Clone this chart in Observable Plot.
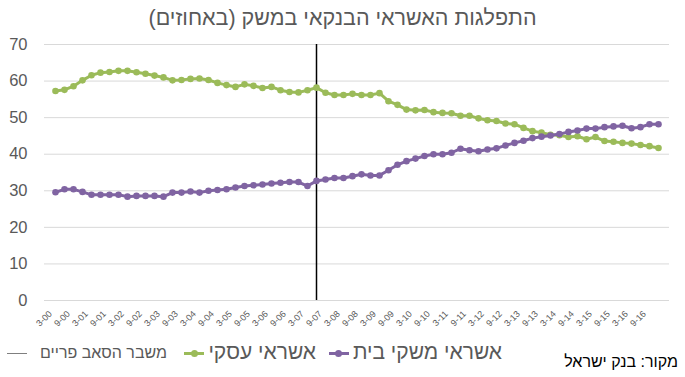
<!DOCTYPE html>
<html><head><meta charset="utf-8">
<script src="https://cdn.jsdelivr.net/npm/d3@7"></script>
<script src="https://cdn.jsdelivr.net/npm/@observablehq/plot@0.6"></script>
<style>
body{margin:0;background:#fff;font-family:"Liberation Sans",Arial,sans-serif;}
#wrap{position:relative;width:685px;height:377px;overflow:hidden;background:#fff;}
#title{position:absolute;left:0;top:0;width:685px;height:36px;line-height:36px;text-align:center;font-size:21.5px;color:#595959;direction:rtl;}
#chart{position:absolute;left:0;top:36px;}
.leg{position:absolute;color:#595959;white-space:nowrap;direction:rtl;line-height:26px;}
.sym{position:absolute;height:24px;}
.sym .ln{position:absolute;left:0;right:0;top:11px;height:3px;}
.sym .dt{position:absolute;left:50%;top:9px;width:7px;height:7px;margin-left:-3.5px;border-radius:50%;}
</style></head><body>
<div id="wrap">
<div id="title">התפלגות האשראי הבנקאי במשק (באחוזים)</div>
<div id="chart"></div>
<div id="legend"></div>
</div>
<script>
const quarters = [
"3-00","6-00","9-00","12-00","3-01","6-01","9-01","12-01","3-02","6-02","9-02","12-02",
"3-03","6-03","9-03","12-03","3-04","6-04","9-04","12-04","3-05","6-05","9-05","12-05",
"3-06","6-06","9-06","12-06","3-07","6-07","9-07","12-07","3-08","6-08","9-08","12-08",
"3-09","6-09","9-09","12-09","3-10","6-10","9-10","12-10","3-11","6-11","9-11","12-11",
"3-12","6-12","9-12","12-12","3-13","6-13","9-13","12-13","3-14","6-14","9-14","12-14",
"3-15","6-15","9-15","12-15","3-16","6-16","9-16","12-16"];
const tickLabels = [
"3-00","9-00","3-01","9-01","3-02","9-02","3-03","9-03","3-04","9-04","3-05","9-05",
"3-06","9-06","3-07","9-07","3-08","9-08","3-09","9-09","3-10","9-10","3-11","9-11",
"3-12","9-12","3-13","9-13","3-14","9-14","3-15","9-15","3-16","9-16"];
// אשראי עסקי (business credit, %)
const businessCredit = [
57.3,57.6,58.6,60.2,61.6,62.3,62.5,62.8,62.8,62.4,62.0,61.5,
61.0,60.2,60.3,60.6,60.7,60.3,59.5,58.9,58.4,59.1,58.7,58.1,
58.4,57.5,57.0,56.9,57.5,58.2,56.8,56.2,56.2,56.5,56.2,56.2,
56.7,54.5,53.5,52.2,52.0,52.1,51.5,51.3,51.2,50.5,50.5,49.8,
49.3,49.1,48.4,48.2,47.2,46.3,45.9,45.3,45.2,44.7,44.9,44.1,
44.7,43.6,43.4,43.1,42.9,42.5,42.2,41.7];
// אשראי משקי בית (household credit, %)
const householdCredit = [
29.6,30.4,30.4,29.7,28.9,28.9,28.9,28.9,28.4,28.6,28.6,28.6,
28.4,29.5,29.5,29.8,29.5,30.0,30.2,30.4,30.9,31.3,31.5,31.7,
32.0,32.2,32.4,32.4,31.3,32.7,33.1,33.5,33.5,34.0,34.5,34.2,
34.2,35.6,37.1,38.1,38.8,39.5,40.0,40.0,40.4,41.5,41.1,40.8,
41.3,41.6,42.4,43.1,43.7,44.4,44.8,45.1,45.5,46.1,46.5,47.0,
47.0,47.4,47.6,47.8,47.1,47.4,48.2,48.2];
const crisisQuarter = ["6-07"];
const yTicks = [0,10,20,30,40,50,60,70];
const seriesNames = ["אשראי משקי בית","אשראי עסקי","משבר הסאב פריים"];
const colors = {business:"#9bbb59", household:"#8064a2", crisis:"#000000"};
const sourceText = "מקור: בנק ישראל";

const biz = quarters.map((q,i)=>({q, v: businessCredit[i]}));
const hh = quarters.map((q,i)=>({q, v: householdCredit[i]}));

const chart = Plot.plot({
  width: 685, height: 299,
  marginTop: 8, marginBottom: 35, marginLeft: 44, marginRight: 16,
  style: {fontFamily: "'Liberation Sans', Arial, sans-serif", color: "#595959", background: "transparent", overflow: "visible"},
  x: {type: "point", domain: quarters, padding: 0.5},
  y: {domain: [0, 70]},
  marks: [
    Plot.gridY(yTicks, {stroke: "#d9d9d9", strokeOpacity: 1, strokeWidth: 1}),
    Plot.axisY(yTicks, {tickSize: 0, tickPadding: 17, fontSize: 16.5, fill: "#595959", label: null}),
    Plot.axisX(tickLabels, {tickSize: 0, tickRotate: -45, fontSize: 9, fill: "#595959", label: null, dx: -5, dy: 0}),
    Plot.ruleX(crisisQuarter, {stroke: colors.crisis, strokeWidth: 1.5}),
    Plot.line(biz, {x: "q", y: "v", stroke: colors.business, strokeWidth: 3}),
    Plot.dot(biz, {x: "q", y: "v", fill: colors.business, r: 3.3}),
    Plot.line(hh, {x: "q", y: "v", stroke: colors.household, strokeWidth: 3}),
    Plot.dot(hh, {x: "q", y: "v", fill: colors.household, r: 3.3})
  ]
});
document.getElementById("chart").appendChild(chart);

const leg = document.getElementById("legend");
function addText(txt, right, top, size, color) {
  const d = document.createElement("div");
  d.className = "leg";
  d.textContent = txt;
  d.style.right = right + "px";
  d.style.top = top + "px";
  d.style.fontSize = size + "px";
  if (color) d.style.color = color;
  leg.appendChild(d);
  return d;
}
function addSym(left, width, color, dot, thick) {
  const s = document.createElement("div");
  s.className = "sym";
  s.style.left = left + "px"; s.style.top = "341px"; s.style.width = width + "px";
  const l = document.createElement("div"); l.className = "ln"; l.style.background = color;
  if (thick) { l.style.height = thick + "px"; l.style.top = "12px"; }
  s.appendChild(l);
  if (dot) { const d = document.createElement("div"); d.className = "dt"; d.style.background = color; s.appendChild(d); }
  leg.appendChild(s);
}
function leftOf(el) { return el.getBoundingClientRect().left; }

const tCrisis = addText(seriesNames[2], 685 - 167, 340, 16);
addSym(7, 20, "#7f7f7f", false, 1);
const tBiz = addText(seriesNames[1], 685 - 316, 339, 21);
addSym(leftOf(tBiz) - 24, 20, colors.business, true);
const tHh = addText(seriesNames[0], 685 - 502, 339, 21);
addSym(leftOf(tHh) - 24, 20, colors.household, true);
addText(sourceText, 7, 349, 16, "#000");
</script>
</body></html>
